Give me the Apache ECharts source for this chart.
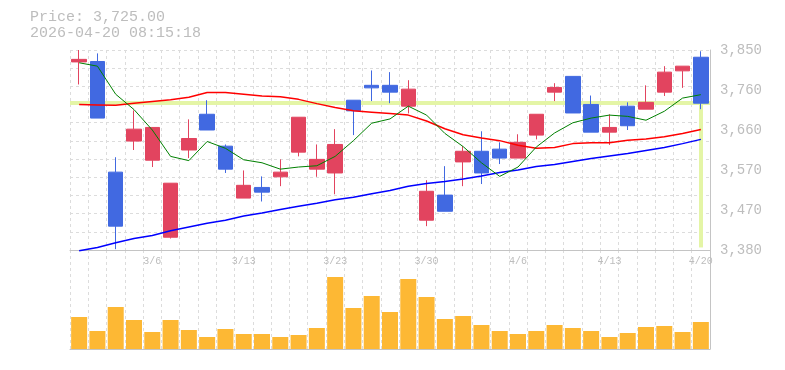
<!DOCTYPE html>
<html><head><meta charset="utf-8">
<script src="https://cdn.jsdelivr.net/npm/echarts@6/dist/echarts.min.js"></script>
<style>html,body{margin:0;padding:0;background:#fff}#c{width:785px;height:370px}</style>
</head><body><div id="c"></div>
<script>
const titleText = 'Price: 3,725.00';
const timeText = '2026-04-20 08:15:18';
const currentPrice = 3725;
const dates = ['3/2','3/3','3/4','3/5','3/6','3/9','3/10','3/11','3/12','3/13',
  '3/16','3/17','3/18','3/19','3/23','3/24','3/25','3/26','3/27','3/30',
  '3/31','4/1','4/2','4/3','4/6','4/7','4/8','4/9','4/10','4/13',
  '4/14','4/15','4/16','4/17','4/20'];
const opens  = [3822,3823,3563,3636,3591,3410,3615,3699,3624,3502,3527,3552,3610,3570,3561,3732,3767,3767,3718,3450,3509,3587,3612,3617,3596,3650,3751,3788,3722,3657,3718,3711,3751,3801,3833];
const closes = [3828,3690,3436,3664,3668,3537,3642,3662,3570,3532,3516,3563,3692,3593,3628,3707,3761,3751,3758,3518,3471,3612,3561,3596,3633,3699,3762,3702,3657,3668,3672,3727,3798,3812,3725];
const lows   = [3769,3690,3382,3615,3575,3407,3596,3662,3561,3502,3494,3530,3600,3552,3511,3650,3730,3725,3701,3436,3471,3530,3535,3582,3596,3640,3730,3702,3657,3627,3662,3711,3742,3761,3711];
const highs  = [3850,3842,3598,3708,3668,3537,3687,3732,3628,3567,3553,3593,3692,3628,3664,3732,3802,3798,3779,3544,3577,3624,3659,3633,3652,3699,3772,3788,3743,3699,3727,3767,3812,3812,3847];
const maShort = [3820,3812,3746,3710,3662,3600,3590,3635,3619,3592,3585,3570,3575,3578,3600,3637,3678,3688,3718,3697,3654,3623,3585,3553,3575,3622,3655,3679,3690,3697,3694,3685,3706,3737,3745];
const maMid   = [3722,3721,3720,3725,3729,3733,3739,3750,3750,3746,3742,3740,3734,3724,3715,3707,3704,3701,3697,3683,3665,3651,3643,3637,3626,3619,3621,3630,3632,3632,3638,3641,3646,3654,3663];
const maLong  = [3378,3386,3397,3407,3414,3425,3434,3443,3450,3460,3467,3475,3483,3490,3498,3504,3512,3520,3530,3536,3541,3547,3554,3562,3568,3576,3581,3588,3595,3601,3607,3614,3621,3630,3640];
const volumes = [320000,180000,420000,290000,170000,290000,190000,120000,200000,150000,150000,120000,140000,210000,720000,410000,530000,370000,700000,520000,300000,330000,240000,180000,150000,180000,240000,210000,180000,120000,160000,220000,230000,170000,270000];
const yTickValues = [3380,3474,3568,3662,3756,3850];
const yTickLabels = ['3,380','3,470','3,570','3,660','3,760','3,850'];
const xLabelIndices = [4,9,14,19,24,29,34];

const FONT = 'Liberation Mono';
const GRAY = '#bdbdbd';
const GRID_DASH = {color:'#dcdcdc', width:1, type:[3,3]};
const RED = '#e2445f', BLUE = '#4169e1';

const candleData = dates.map((d,i)=>[opens[i],closes[i],lows[i],highs[i]]);
const chart = echarts.init(document.getElementById('c'), null, {renderer:'canvas'});
chart.setOption({
  animation:false,
  backgroundColor:'#fff',
  title:{text: titleText + '\n' + timeText, left:30, top:9, padding:0,
    textStyle:{fontFamily:FONT, fontSize:15, lineHeight:16, color:GRAY, fontWeight:'normal'}},
  grid:[
    {left:70, right:75, top:50, height:200},
    {left:70, right:75, top:250, height:99}
  ],
  xAxis:[
    {type:'category', gridIndex:0, data:dates, boundaryGap:true,
      axisLine:{show:true, lineStyle:{color:'#c4c4c4', width:1}},
      axisTick:{show:false, interval:0},
      axisLabel:{interval:(i)=>xLabelIndices.includes(i), fontFamily:FONT, fontSize:10, color:GRAY, margin:6, hideOverlap:false},
      splitLine:{show:true, interval:0, lineStyle:GRID_DASH}},
    {type:'category', gridIndex:1, data:dates, boundaryGap:true,
      axisLine:{show:true, lineStyle:{color:'#c4c4c4', width:1}},
      axisTick:{show:false, interval:0},
      axisLabel:{show:false},
      splitLine:{show:true, interval:0, lineStyle:GRID_DASH}}
  ],
  yAxis:[
    {type:'value', gridIndex:0, position:'right', min:3380, max:3850,
      axisLine:{show:true, lineStyle:{color:'#c4c4c4', width:1}},
      axisTick:{show:false},
      splitLine:{show:false},
      axisLabel:{customValues:yTickValues, formatter:(v)=>yTickLabels[yTickValues.indexOf(v)] || '',
        fontFamily:FONT, fontSize:14, color:GRAY, margin:10, padding:[4,0,0,0]}},
    {type:'value', gridIndex:0, position:'left', min:0, max:11, interval:1,
      axisLine:{show:false}, axisTick:{show:false}, axisLabel:{show:false},
      splitLine:{show:true, lineStyle:GRID_DASH}},
    {type:'value', gridIndex:1, position:'right', min:0, max:990000,
      axisLine:{show:true, lineStyle:{color:'#c4c4c4', width:1}},
      axisTick:{show:false}, axisLabel:{show:false}, splitLine:{show:false}}
  ],
  series:[
    {type:'line', xAxisIndex:0, yAxisIndex:0, data:closes, z:1, silent:true,
      symbol:'none', lineStyle:{opacity:0},
      markLine:{silent:true, z:1, symbol:'none', label:{show:false},
        lineStyle:{color:'#e4f5a6', width:4, type:'solid'},
        data:[
          {yAxis:currentPrice},
          [{coord:[dates[dates.length-1], currentPrice]},{coord:[dates[dates.length-1], 3386]}]
        ]}},
    {type:'candlestick', xAxisIndex:0, yAxisIndex:0, data:candleData, z:2, barWidth:15,
      itemStyle:{color:RED, color0:BLUE, borderColor:RED, borderColor0:BLUE, borderWidth:1}},
    {type:'line', xAxisIndex:0, yAxisIndex:0, data:maLong, z:3, symbol:'none', clip:false,
      lineStyle:{color:'#0000ff', width:1.5}},
    {type:'line', xAxisIndex:0, yAxisIndex:0, data:maMid, z:3, symbol:'none',
      lineStyle:{color:'#ff0000', width:1.5}},
    {type:'line', xAxisIndex:0, yAxisIndex:0, data:maShort, z:3, symbol:'none',
      lineStyle:{color:'#008000', width:1}},
    {type:'bar', xAxisIndex:1, yAxisIndex:2, data:volumes, barWidth:16,
      itemStyle:{color:'#fdb834'}}
  ]
});
</script>
</body></html>
